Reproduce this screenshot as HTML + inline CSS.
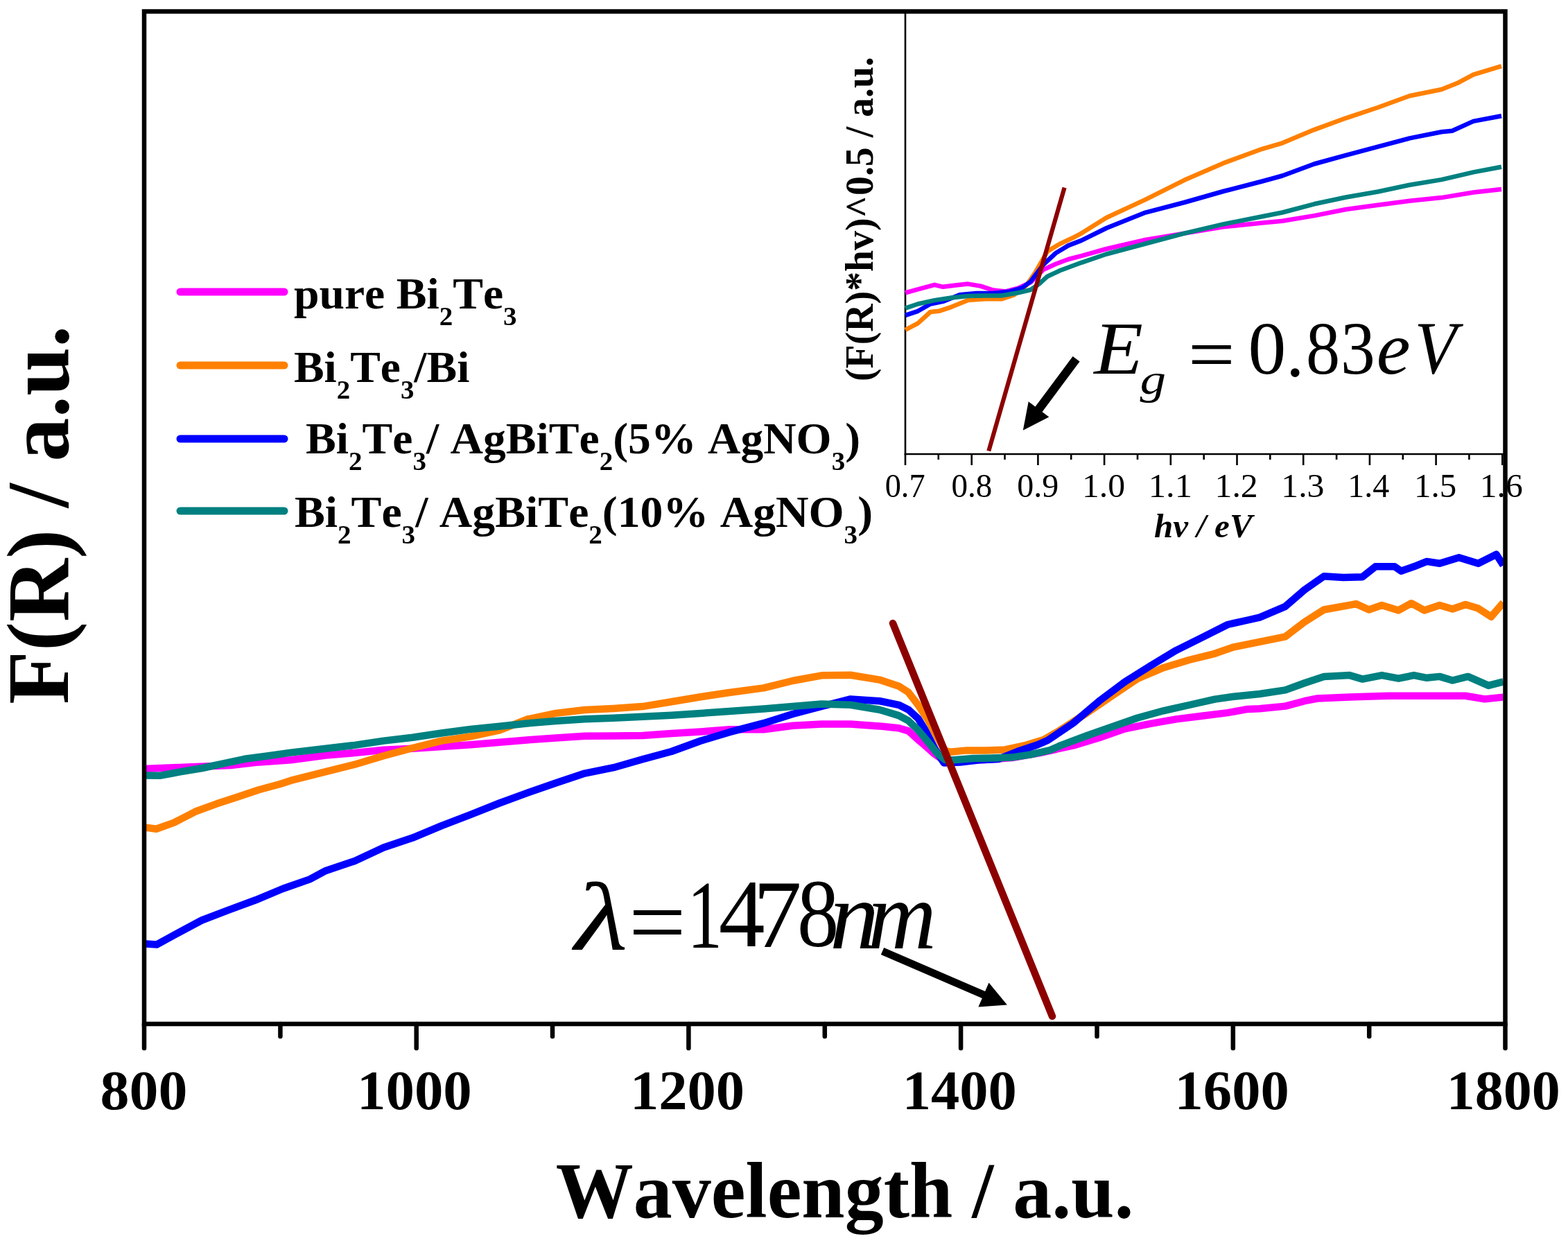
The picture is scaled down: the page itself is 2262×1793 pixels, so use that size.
<!DOCTYPE html>
<html><head><meta charset="utf-8"><style>
html,body{margin:0;padding:0;background:#fff;}
svg{display:block;}
text{font-family:'Liberation Serif','Times New Roman',serif;fill:#000;font-kerning:none;}
</style></head><body>
<svg xmlns="http://www.w3.org/2000/svg" width="2262" height="1793" viewBox="0 0 2262 1793">
<rect width="2262" height="1793" fill="#fff"/>
<g stroke="#000" stroke-width="2.6" fill="none" stroke-linecap="butt">
<line x1="1306" y1="17" x2="1306" y2="656.3"/>
<line x1="1304.7" y1="655" x2="2170" y2="655"/>
<line x1="1306.0" y1="655" x2="1306.0" y2="671"/>
<line x1="1401.7" y1="655" x2="1401.7" y2="671"/>
<line x1="1497.4" y1="655" x2="1497.4" y2="671"/>
<line x1="1593.1" y1="655" x2="1593.1" y2="671"/>
<line x1="1688.8" y1="655" x2="1688.8" y2="671"/>
<line x1="1784.5" y1="655" x2="1784.5" y2="671"/>
<line x1="1880.2" y1="655" x2="1880.2" y2="671"/>
<line x1="1975.9" y1="655" x2="1975.9" y2="671"/>
<line x1="2071.6" y1="655" x2="2071.6" y2="671"/>
<line x1="2167.3" y1="655" x2="2167.3" y2="671"/>
<line x1="1353.8" y1="655" x2="1353.8" y2="663"/>
<line x1="1449.5" y1="655" x2="1449.5" y2="663"/>
<line x1="1545.2" y1="655" x2="1545.2" y2="663"/>
<line x1="1641.0" y1="655" x2="1641.0" y2="663"/>
<line x1="1736.7" y1="655" x2="1736.7" y2="663"/>
<line x1="1832.3" y1="655" x2="1832.3" y2="663"/>
<line x1="1928.1" y1="655" x2="1928.1" y2="663"/>
<line x1="2023.8" y1="655" x2="2023.8" y2="663"/>
<line x1="2119.4" y1="655" x2="2119.4" y2="663"/>
</g>
<polyline points="1306.0,422.3 1324.1,417.4 1348.2,410.8 1360.3,413.8 1378.4,411.6 1396.5,409.6 1414.6,412.6 1432.7,418.6 1450.7,420.4 1468.8,415.6 1486.9,407.2 1505.0,389.1 1523.1,380.7 1541.2,374.0 1560.0,369.2 1596.2,359.0 1652.4,345.9 1708.5,336.6 1764.7,327.2 1820.9,321.6 1850.0,318.8 1895.9,311.1 1941.8,302.0 1987.8,295.8 2033.7,289.7 2079.6,285.1 2125.5,277.5 2166.0,272.9" fill="none" stroke="#ff00ff" stroke-width="6.5" stroke-linejoin="round" stroke-linecap="butt"/>
<polyline points="1306.0,475.9 1324.1,466.3 1342.2,450.0 1354.3,448.8 1372.4,442.8 1396.5,433.1 1420.6,431.3 1444.7,431.3 1462.8,425.3 1480.9,411.4 1493.0,393.9 1511.0,362.6 1529.1,351.7 1547.2,343.3 1560.0,336.6 1596.2,314.0 1652.4,287.9 1708.5,259.8 1764.7,235.4 1820.9,214.8 1850.0,206.3 1895.9,187.1 1941.8,170.3 1987.8,155.0 2033.7,138.2 2079.6,129.0 2102.6,119.8 2125.5,107.6 2166.0,95.3" fill="none" stroke="#ff8000" stroke-width="6.5" stroke-linejoin="round" stroke-linecap="butt"/>
<polyline points="1306.0,454.8 1324.1,448.8 1342.2,438.5 1360.3,434.9 1384.4,425.3 1408.5,422.9 1432.7,422.9 1456.8,420.4 1474.9,415.0 1486.9,406.0 1505.0,381.9 1523.1,365.0 1541.2,354.1 1560.0,346.9 1596.2,329.0 1652.4,306.6 1708.5,292.0 1764.7,276.0 1820.9,261.5 1850.0,253.5 1895.9,236.5 1941.8,223.9 1987.8,211.6 2033.7,199.4 2079.6,190.2 2094.9,188.7 2125.5,174.9 2166.0,167.2" fill="none" stroke="#0000ff" stroke-width="6.5" stroke-linejoin="round" stroke-linecap="butt"/>
<polyline points="1306.0,444.6 1324.1,438.5 1348.2,433.1 1372.4,429.5 1396.5,427.1 1420.6,426.5 1444.7,426.5 1468.8,422.3 1486.9,418.0 1499.0,409.6 1511.0,398.7 1529.1,390.3 1560.0,378.8 1596.2,366.5 1652.4,351.5 1708.5,336.6 1764.7,323.4 1820.9,312.2 1850.0,306.5 1895.9,294.3 1941.8,284.5 1987.8,276.5 2033.7,266.7 2079.6,259.1 2125.5,248.4 2166.0,240.7" fill="none" stroke="#008080" stroke-width="6.5" stroke-linejoin="round" stroke-linecap="butt"/>
<polyline points="207.0,1109.0 270.0,1106.5 332.7,1104.0 373.5,1099.4 419.4,1096.3 470.0,1089.5 511.7,1086.0 553.5,1081.8 595.2,1079.7 637.0,1077.0 678.7,1074.2 720.5,1070.7 760.0,1067.4 801.7,1064.6 843.5,1061.8 885.2,1061.5 927.0,1061.1 968.7,1057.9 1010.5,1055.5 1052.2,1052.2 1101.7,1052.3 1143.5,1046.7 1185.2,1044.6 1227.0,1044.6 1268.7,1047.4 1296.5,1050.2 1310.5,1054.4 1324.4,1066.9 1334.0,1075.0 1348.6,1088.0 1363.0,1098.0 1385.0,1097.0 1420.0,1096.0 1460.0,1093.0 1500.0,1086.0 1548.4,1075.4 1585.5,1064.3 1622.6,1051.3 1659.7,1043.9 1696.8,1037.4 1734.0,1032.7 1771.0,1028.1 1800.0,1022.9 1817.1,1022.3 1854.2,1018.6 1882.0,1011.2 1900.6,1007.5 1947.0,1005.6 2002.6,1003.8 2058.3,1003.8 2114.0,1003.8 2141.8,1008.4 2168.7,1005.6" fill="none" stroke="#ff00ff" stroke-width="10.5" stroke-linejoin="round" stroke-linecap="butt"/>
<polyline points="207.0,1193.3 225.5,1195.8 251.0,1186.6 281.6,1170.8 312.2,1159.6 342.9,1149.4 373.5,1139.2 404.0,1131.0 419.4,1125.9 470.0,1113.1 511.7,1102.7 553.5,1090.2 595.2,1079.0 637.0,1068.6 678.7,1062.4 720.5,1053.3 761.0,1037.5 801.7,1028.9 843.5,1024.0 885.2,1021.9 927.0,1019.1 968.7,1012.2 1010.5,1005.2 1052.2,999.0 1101.7,992.4 1143.5,982.0 1185.2,974.3 1227.0,973.7 1268.7,980.6 1296.5,989.7 1310.5,998.7 1324.4,1016.8 1338.3,1037.7 1352.2,1063.4 1363.3,1083.0 1371.0,1084.7 1394.2,1082.4 1422.0,1082.4 1449.9,1081.5 1477.7,1075.5 1505.5,1067.1 1529.9,1053.0 1567.0,1029.0 1604.0,1004.0 1641.2,979.0 1678.3,963.2 1715.4,952.0 1752.5,942.8 1780.0,933.3 1817.1,925.8 1854.2,918.4 1882.0,897.1 1909.9,879.5 1956.3,871.1 1974.8,879.5 1993.4,873.0 2017.5,880.4 2036.0,870.2 2054.6,880.4 2076.8,873.0 2095.4,878.5 2114.0,872.0 2132.5,877.6 2151.1,889.7 2168.7,869.3" fill="none" stroke="#ff8000" stroke-width="10.5" stroke-linejoin="round" stroke-linecap="butt"/>
<polyline points="207.0,1361.3 226.0,1362.6 252.0,1348.3 291.0,1327.5 329.9,1312.6 368.8,1298.3 407.8,1282.0 446.8,1268.4 470.0,1255.9 511.7,1242.0 553.5,1222.5 595.2,1208.6 637.0,1191.2 678.7,1175.2 720.5,1158.5 761.0,1143.6 801.7,1129.5 843.5,1115.6 885.2,1107.2 927.0,1095.2 968.7,1084.0 1010.5,1068.8 1052.2,1056.2 1101.7,1043.2 1143.5,1030.0 1185.2,1019.0 1227.0,1008.4 1268.7,1011.2 1296.5,1016.8 1310.5,1023.7 1324.4,1036.3 1334.0,1052.0 1348.6,1080.0 1361.7,1100.5 1385.0,1099.6 1412.8,1096.3 1440.6,1094.9 1468.4,1083.8 1496.3,1074.5 1511.3,1068.0 1548.4,1043.0 1585.5,1011.4 1622.6,983.6 1659.7,960.4 1696.8,938.1 1734.0,919.6 1771.0,901.0 1800.0,894.5 1817.1,890.6 1854.2,874.8 1882.0,850.7 1909.9,831.2 1937.7,833.1 1965.5,832.2 1984.1,817.3 2011.9,817.3 2021.2,823.8 2039.7,817.3 2058.3,809.9 2076.8,812.7 2104.7,804.3 2132.5,812.7 2158.5,799.7 2168.7,815.5" fill="none" stroke="#0000ff" stroke-width="10.5" stroke-linejoin="round" stroke-linecap="butt"/>
<polyline points="207.0,1118.5 230.6,1118.8 261.2,1113.2 291.8,1108.0 322.4,1101.4 353.0,1094.8 383.7,1090.7 419.4,1085.6 470.0,1079.7 511.7,1074.9 553.5,1068.6 595.2,1063.7 637.0,1057.5 678.7,1051.9 720.5,1047.7 760.0,1043.5 801.7,1040.0 843.5,1037.2 885.2,1035.8 927.0,1033.7 968.7,1031.7 1010.5,1028.9 1052.2,1026.1 1101.7,1022.4 1143.5,1018.9 1185.2,1015.4 1227.0,1016.8 1268.7,1023.7 1296.5,1032.1 1310.5,1039.7 1324.4,1053.0 1338.3,1069.7 1352.2,1087.0 1363.3,1096.0 1375.7,1096.3 1403.5,1094.0 1431.3,1093.5 1459.1,1092.6 1487.0,1088.4 1514.8,1082.0 1529.9,1075.4 1567.0,1061.5 1604.0,1048.5 1641.2,1035.5 1678.3,1025.3 1715.4,1017.0 1752.5,1008.6 1780.0,1004.7 1817.1,1001.0 1854.2,995.4 1882.0,985.2 1909.9,975.9 1947.0,974.1 1965.5,979.6 1993.4,974.1 2017.5,978.7 2039.7,974.1 2058.3,977.8 2076.8,975.9 2095.4,981.5 2117.7,975.9 2147.3,988.9 2168.7,983.4" fill="none" stroke="#008080" stroke-width="10.5" stroke-linejoin="round" stroke-linecap="butt"/>
<line x1="1288" y1="899" x2="1518" y2="1466" stroke="#8c0000" stroke-width="10.5" stroke-linecap="round"/>
<line x1="1535.6" y1="270.6" x2="1426.3" y2="650.5" stroke="#8c0000" stroke-width="6.2" stroke-linecap="butt"/>
<line x1="1273.0" y1="1372.0" x2="1420.8" y2="1435.7" stroke="#000" stroke-width="11"/><polygon points="1452.9,1449.6 1411.4,1452.4 1426.5,1417.5" fill="#000"/>
<line x1="1552.6" y1="517.8" x2="1497.3" y2="591.9" stroke="#000" stroke-width="12.5"/><polygon points="1475.8,620.8 1483.7,579.3 1513.3,601.4" fill="#000"/>
<g stroke="#000" stroke-width="6.5" fill="none">
<rect x="208" y="16.5" width="1963.5" height="1460.5" stroke-linejoin="miter"/>
<line x1="208.0" y1="1477" x2="208.0" y2="1512" stroke-linecap="round"/>
<line x1="600.7" y1="1477" x2="600.7" y2="1512" stroke-linecap="round"/>
<line x1="993.4" y1="1477" x2="993.4" y2="1512" stroke-linecap="round"/>
<line x1="1386.1" y1="1477" x2="1386.1" y2="1512" stroke-linecap="round"/>
<line x1="1778.8" y1="1477" x2="1778.8" y2="1512" stroke-linecap="round"/>
<line x1="2171.5" y1="1477" x2="2171.5" y2="1512" stroke-linecap="round"/>
<line x1="404.4" y1="1477" x2="404.4" y2="1495" stroke-linecap="round"/>
<line x1="797.0" y1="1477" x2="797.0" y2="1495" stroke-linecap="round"/>
<line x1="1189.8" y1="1477" x2="1189.8" y2="1495" stroke-linecap="round"/>
<line x1="1582.5" y1="1477" x2="1582.5" y2="1495" stroke-linecap="round"/>
<line x1="1975.2" y1="1477" x2="1975.2" y2="1495" stroke-linecap="round"/>
</g>
<line x1="260" y1="421" x2="410" y2="421" stroke="#ff00ff" stroke-width="11" stroke-linecap="round"/>
<line x1="260" y1="527" x2="410" y2="527" stroke="#ff8000" stroke-width="11" stroke-linecap="round"/>
<line x1="260" y1="633" x2="410" y2="633" stroke="#0000ff" stroke-width="11" stroke-linecap="round"/>
<line x1="260" y1="737" x2="410" y2="737" stroke="#008080" stroke-width="11" stroke-linecap="round"/>
<text id="t800" font-size="80" font-weight="bold" textLength="125.90" lengthAdjust="spacingAndGlyphs" x="144.55" y="1600.00">800</text>
<text id="t1000" font-size="80" font-weight="bold" textLength="165.73" lengthAdjust="spacingAndGlyphs" x="515.07" y="1600.00">1000</text>
<text id="t1200" font-size="80" font-weight="bold" textLength="165.13" lengthAdjust="spacingAndGlyphs" x="908.98" y="1600.15">1200</text>
<text id="t1400" font-size="80" font-weight="bold" textLength="165.09" lengthAdjust="spacingAndGlyphs" x="1301.81" y="1599.65">1400</text>
<text id="t1600" font-size="80" font-weight="bold" textLength="165.09" lengthAdjust="spacingAndGlyphs" x="1694.60" y="1600.15">1600</text>
<text id="t1800" font-size="80" font-weight="bold" textLength="163.99" lengthAdjust="spacingAndGlyphs" x="2086.75" y="1599.75">1800</text>
<text id="xlabel" font-size="114" font-weight="bold" textLength="833.80" lengthAdjust="spacingAndGlyphs" x="801.83" y="1756.00">Wavelength / a.u.</text>
<text id="ylabel" font-size="128" font-weight="bold" textLength="546.72" lengthAdjust="spacingAndGlyphs" x="0" y="0" transform="translate(98.00,1016.07) rotate(-90)">F(R) / a.u.</text>
<text id="leg1" font-size="64" font-weight="bold" textLength="321.63" lengthAdjust="spacingAndGlyphs" x="423.97" y="444.80">pure Bi<tspan font-size="38" dy="24">2</tspan><tspan dy="-24">Te</tspan><tspan font-size="38" dy="24">3</tspan></text>
<text id="leg2" font-size="64" font-weight="bold" textLength="253.35" lengthAdjust="spacingAndGlyphs" x="423.98" y="551.00">Bi<tspan font-size="38" dy="24">2</tspan><tspan dy="-24">Te</tspan><tspan font-size="38" dy="24">3</tspan><tspan dy="-24">/Bi</tspan></text>
<text id="leg3" font-size="64" font-weight="bold" textLength="800.07" lengthAdjust="spacingAndGlyphs" x="440.97" y="654.00">Bi<tspan font-size="38" dy="24">2</tspan><tspan dy="-24">Te</tspan><tspan font-size="38" dy="24">3</tspan><tspan dy="-24">/ AgBiTe</tspan><tspan font-size="38" dy="24">2</tspan><tspan dy="-24">(5% AgNO</tspan><tspan font-size="38" dy="24">3</tspan><tspan dy="-24">)</tspan></text>
<text id="leg4" font-size="64" font-weight="bold" textLength="834.08" lengthAdjust="spacingAndGlyphs" x="424.97" y="759.70">Bi<tspan font-size="38" dy="24">2</tspan><tspan dy="-24">Te</tspan><tspan font-size="38" dy="24">3</tspan><tspan dy="-24">/ AgBiTe</tspan><tspan font-size="38" dy="24">2</tspan><tspan dy="-24">(10% AgNO</tspan><tspan font-size="38" dy="24">3</tspan><tspan dy="-24">)</tspan></text>
<text id="i0" font-size="49" textLength="57.88" lengthAdjust="spacingAndGlyphs" x="1276.71" y="717.00">0.7</text>
<text id="i1" font-size="49" textLength="58.90" lengthAdjust="spacingAndGlyphs" x="1372.48" y="717.00">0.8</text>
<text id="i2" font-size="49" textLength="60.00" lengthAdjust="spacingAndGlyphs" x="1467.22" y="717.00">0.9</text>
<text id="i3" font-size="49" textLength="62.15" lengthAdjust="spacingAndGlyphs" x="1560.94" y="717.00">1.0</text>
<text id="i4" font-size="49" textLength="63.30" lengthAdjust="spacingAndGlyphs" x="1656.66" y="717.00">1.1</text>
<text id="i5" font-size="49" textLength="62.17" lengthAdjust="spacingAndGlyphs" x="1752.52" y="717.00">1.2</text>
<text id="i6" font-size="49" textLength="62.15" lengthAdjust="spacingAndGlyphs" x="1848.34" y="717.00">1.3</text>
<text id="i7" font-size="49" textLength="59.97" lengthAdjust="spacingAndGlyphs" x="1944.29" y="717.00">1.4</text>
<text id="i8" font-size="49" textLength="61.06" lengthAdjust="spacingAndGlyphs" x="2040.00" y="717.00">1.5</text>
<text id="i9" font-size="49" textLength="62.15" lengthAdjust="spacingAndGlyphs" x="2134.73" y="717.00">1.6</text>
<text id="hv" font-size="48" font-weight="bold" font-style="italic" textLength="141.61" lengthAdjust="spacingAndGlyphs" x="1664.98" y="775.00">hv / eV</text>
<text id="iylabel" font-size="57" font-weight="bold" textLength="467.91" lengthAdjust="spacingAndGlyphs" x="0" y="0" transform="translate(1258.50,549.96) rotate(-90)">(F(R)*hv)^0.5 / a.u.</text>
<text id="gE" font-size="107" font-style="italic" textLength="70.70" lengthAdjust="spacingAndGlyphs" x="1578.27" y="539.45">E</text>
<text id="gg" font-size="62" font-style="italic" textLength="37.53" lengthAdjust="spacingAndGlyphs" x="1644.59" y="568.05">g</text>
<text id="geq" font-size="107" textLength="67.60" lengthAdjust="spacingAndGlyphs" x="1714.10" y="546.90">=</text>
<text id="g0" font-size="107" textLength="54.81" lengthAdjust="spacingAndGlyphs" x="1800.50" y="538.60">0</text>
<text id="gdot" font-size="107" textLength="26.59" lengthAdjust="spacingAndGlyphs" x="1854.94" y="541.50">.</text>
<text id="g8" font-size="107" textLength="49.12" lengthAdjust="spacingAndGlyphs" x="1884.12" y="538.60">8</text>
<text id="g3" font-size="107" textLength="49.74" lengthAdjust="spacingAndGlyphs" x="1934.05" y="538.60">3</text>
<text id="ge" font-size="107" font-style="italic" textLength="48.78" lengthAdjust="spacingAndGlyphs" x="1985.71" y="539.20">e</text>
<text id="gV" font-size="107" font-style="italic" textLength="60.99" lengthAdjust="spacingAndGlyphs" x="2040.40" y="537.60">V</text>
<text id="lam" font-size="140" font-style="italic" textLength="76.82" lengthAdjust="spacingAndGlyphs" x="828.90" y="1369.65">λ</text>
<text id="leq" font-size="140" textLength="83.10" lengthAdjust="spacingAndGlyphs" x="906.73" y="1376.85">=</text>
<text id="l1" font-size="140" textLength="50.55" lengthAdjust="spacingAndGlyphs" x="991.43" y="1366.60">1</text>
<text id="l4" font-size="140" textLength="66.77" lengthAdjust="spacingAndGlyphs" x="1036.74" y="1364.90">4</text>
<text id="l7" font-size="140" textLength="70.13" lengthAdjust="spacingAndGlyphs" x="1086.38" y="1366.15">7</text>
<text id="l8" font-size="140" textLength="60.20" lengthAdjust="spacingAndGlyphs" x="1150.10" y="1365.40">8</text>
<text id="ln" font-size="140" font-style="italic" textLength="71.08" lengthAdjust="spacingAndGlyphs" x="1197.02" y="1367.90">n</text>
<text id="lm" font-size="140" font-style="italic" textLength="98.89" lengthAdjust="spacingAndGlyphs" x="1252.01" y="1367.90">m</text>
</svg>
</body></html>
